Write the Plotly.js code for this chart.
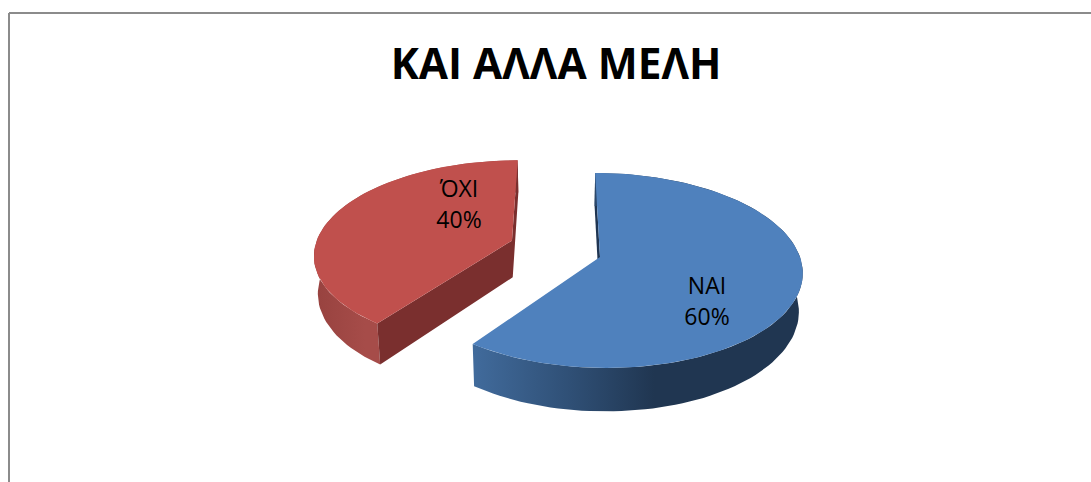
<!DOCTYPE html>
<html>
<head>
<meta charset="utf-8">
<script src="https://cdn.plot.ly/plotly-3.0.1.min.js"></script>
<style>html,body{margin:0;padding:0;background:#fff;overflow:hidden}</style>
</head>
<body>
<div id="chart" style="width:1091px;height:482px"></div>
<script>
const categories = ['NAI', 'ΌΧΙ'];
const values = [60, 40];
const titleText = 'ΚΑΙ ΑΛΛΑ ΜΕΛΗ';

// Projection of the tilted pie plane onto the page
const vx = 560, vy = 257, rx = 200, ry = 95.6, k = 0.138, depth = 37.5, conv = 0.016;
const explode = [{u: 0.2, v: 0}, {u: -0.246, v: -0.175}];
function topPt(u, v) {
  const w = 1 - k * v;
  return [vx + rx * u / w, vy + ry * v / w];
}
function lowPt(u, v) {
  const p = topPt(u, v), w = 1 - k * v;
  return [p[0] - (p[0] - vx) * conv, p[1] + depth / w];
}
function rimPts(fn, off, a0, a1) {
  const pts = [];
  for (let d = a0; d <= a1 + 1e-6; d += 2) {
    const t = d * Math.PI / 180;
    pts.push(fn(off.u + Math.sin(t), off.v - Math.cos(t)));
  }
  return pts;
}
function poly(pts, fill, gradient) {
  const tr = {
    type: 'scatter', mode: 'lines', hoverinfo: 'skip', showlegend: false,
    x: pts.map(p => p[0]).concat(pts[0][0]),
    y: pts.map(p => p[1]).concat(pts[0][1]),
    fill: 'toself', line: {width: 0}
  };
  if (gradient) tr.fillgradient = {type: 'horizontal', colorscale: gradient};
  else tr.fillcolor = fill;
  return tr;
}

const total = values[0] + values[1];
const blueEnd = 360 * values[0] / total;
const B = explode[0], R = explode[1];
const traces = [];

// Red slice: outer wall, cut wall, top face
traces.push(poly(
  rimPts(topPt, R, blueEnd, 360).concat(rimPts(lowPt, R, blueEnd, 360).reverse()),
  null, [[0, '#97423f'], [0.25, '#a64c49'], [1, '#a64c49']]));
const rs = topPt(R.u + Math.sin(blueEnd * Math.PI / 180), R.v - Math.cos(blueEnd * Math.PI / 180));
const rsl = lowPt(R.u + Math.sin(blueEnd * Math.PI / 180), R.v - Math.cos(blueEnd * Math.PI / 180));
const ra = topPt(R.u, R.v), ral = lowPt(R.u, R.v);
const re = topPt(R.u, R.v - 1), rel = lowPt(R.u, R.v - 1);
traces.push(poly([rs, ra, re, rel, ral, rsl], '#7a2f2e'));
traces.push(poly([ra].concat(rimPts(topPt, R, blueEnd, 360)), '#c0504d'));

// Blue slice: cut wall, outer wall, top face
const ba = topPt(B.u, B.v), bal = lowPt(B.u, B.v);
const bs = topPt(B.u, B.v - 1), bsl = lowPt(B.u, B.v - 1);
traces.push(poly([bs, ba, bal, bsl], '#1f3552'));
traces.push(poly(
  rimPts(topPt, B, 0, blueEnd).concat(rimPts(lowPt, B, 0, blueEnd).reverse()),
  null, [[0, '#416b9c'], [0.3, '#2f4f75'], [0.55, '#203651'], [1, '#203651']]));
traces.push(poly([ba].concat(rimPts(topPt, B, 0, blueEnd)), '#4f81bd'));

// Slice labels
const labelX = [707, 459];
const labelY = [288, 191];
const pctY = [319, 222];
traces.push({
  type: 'scatter', mode: 'text', hoverinfo: 'skip', showlegend: false,
  x: labelX.concat(labelX),
  y: labelY.concat(pctY),
  text: categories.concat(values.map(v => Math.round(v / total * 100) + '%')),
  textposition: 'middle center',
  textfont: {family: 'Open Sans, Noto Sans, sans-serif', size: 23, color: '#000'}
});

const layout = {
  width: 1091, height: 482, autosize: false,
  margin: {l: 0, r: 0, t: 0, b: 0},
  paper_bgcolor: '#fff', plot_bgcolor: '#fff',
  showlegend: false,
  title: {
    text: '<b>' + titleText + '</b>',
    x: 556 / 1091, xanchor: 'center',
    y: 1 - 64 / 482, yanchor: 'middle',
    font: {family: 'Open Sans, Noto Sans, sans-serif', size: 42.4, color: '#000'}
  },
  xaxis: {range: [0, 1091], visible: false, fixedrange: true},
  yaxis: {range: [482, 0], visible: false, fixedrange: true},
  shapes: [
    {type: 'line', xref: 'x', yref: 'y', x0: 9, x1: 1091, y0: 13, y1: 13, line: {color: '#8b8b8b', width: 2}},
    {type: 'line', xref: 'x', yref: 'y', x0: 9, x1: 9, y0: 13, y1: 482, line: {color: '#8b8b8b', width: 2}}
  ]
};
Plotly.newPlot('chart', traces, layout, {displayModeBar: false, staticPlot: true});
</script>
</body>
</html>
